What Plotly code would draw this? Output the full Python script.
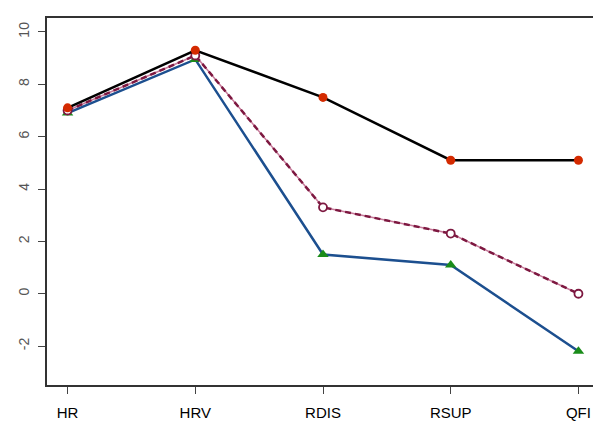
import plotly.graph_objects as go

categories = ["HR", "HRV", "RDIS", "RSUP", "QFI"]
series_black = [7.1, 9.3, 7.5, 5.1, 5.1]
series_purple = [7.0, 9.1, 3.3, 2.3, 0.0]
series_blue = [6.9, 8.95, 1.5, 1.1, -2.2]
y_ticks = [-2, 0, 2, 4, 6, 8, 10]

x = list(range(len(categories)))

fig = go.Figure()

# blue line with green triangles
fig.add_trace(go.Scatter(
    x=x, y=series_blue, mode="lines+markers",
    line=dict(color="#1c4f8f", width=2.5),
    marker=dict(symbol="triangle-up", size=10, color="#1a8c1a", line=dict(width=0)),
    showlegend=False))

# purple dashed with open circles: pink underlay + maroon dashes
fig.add_trace(go.Scatter(
    x=x, y=series_purple, mode="lines",
    line=dict(color="#c77a9a", width=1.5),
    showlegend=False, hoverinfo="skip"))
fig.add_trace(go.Scatter(
    x=x, y=series_purple, mode="lines+markers",
    line=dict(color="#7d1840", width=2.5, dash="6px,4px"),
    marker=dict(symbol="circle", size=8, color="white", line=dict(color="#7d1840", width=1.8)),
    showlegend=False))

# black line with red circles
fig.add_trace(go.Scatter(
    x=x, y=series_black, mode="lines+markers",
    line=dict(color="black", width=2.5),
    marker=dict(symbol="circle", size=9, color="#d42a00", line=dict(width=0)),
    showlegend=False))

fig.update_layout(
    width=601, height=421,
    margin=dict(l=34, r=8, t=10, b=43),
    plot_bgcolor="white", paper_bgcolor="white",
    font=dict(family="Liberation Sans, Arial, sans-serif"),
)

fig.update_xaxes(
    range=[-0.161, 4.161],
    tickmode="array", tickvals=x, ticktext=categories,
    showgrid=False, zeroline=False,
    showline=True, mirror=True, linecolor="#333333", linewidth=2,
    ticks="outside", ticklen=7, tickwidth=1, tickcolor="#444444",
    ticklabelstandoff=6,
    tickfont=dict(size=15, color="black"),
)

fig.update_yaxes(
    range=[-3.486, 10.533],
    tickmode="array", tickvals=y_ticks, ticktext=[str(v) for v in y_ticks],
    showgrid=False, zeroline=False,
    showline=True, mirror=True, linecolor="#333333", linewidth=2,
    ticks="outside", ticklen=7, tickwidth=1, tickcolor="#444444",
    tickangle=-90, ticklabelstandoff=3,
    tickfont=dict(size=14, color="#555555"),
)

fig.write_html("out.html")
